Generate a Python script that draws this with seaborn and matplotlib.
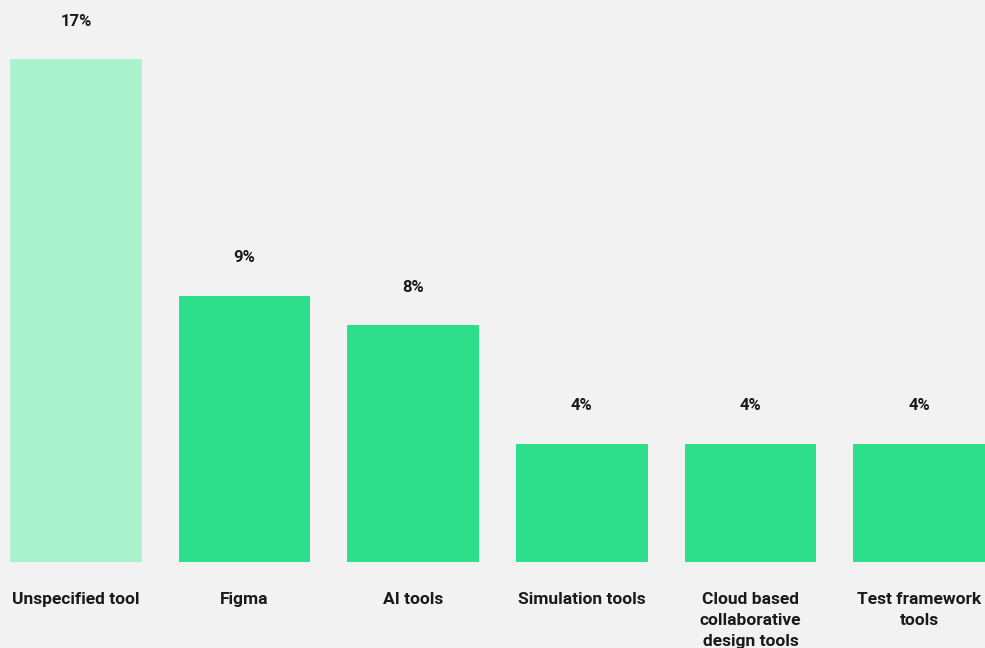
import matplotlib
matplotlib.use("Agg")
import matplotlib.pyplot as plt
import seaborn as sns
import pandas as pd

categories = ["Unspecified tool", "Figma", "AI tools", "Simulation tools",
              "Cloud based\ncollaborative\ndesign tools", "Test framework\ntools"]
shares = [17, 9, 8, 4, 4, 4]
bar_colors = ["#abf3cf", "#2ddf8a", "#2ddf8a", "#2ddf8a", "#2ddf8a", "#2ddf8a"]

bg = "#f2f2f2"
txt = "#1a1a1a"

sns.set_theme(style="white")
plt.rcParams["font.family"] = ["Roboto", "DejaVu Sans"]

df = pd.DataFrame({"tool": categories, "share": shares})

fig = plt.figure(figsize=(9.85, 6.48), dpi=100, facecolor=bg)
ax = fig.add_axes([0, 86 / 648, 1, 562 / 648])
ax.set_facecolor(bg)

sns.barplot(ax=ax, data=df, x="tool", y="share", hue="tool",
            palette=bar_colors, width=0.78, saturation=1, legend=False,
            linewidth=0, edgecolor="none")

for cont in ax.containers:
    ax.bar_label(cont, labels=[f"{v:g}%" for v in cont.datavalues],
                 padding=22, fontsize=12, fontweight="bold", color=txt)

ax.set_xlim(-0.45, 5.39)
ax.set_ylim(0, 19.0)
ax.set_xlabel("")
ax.set_ylabel("")
ax.set_yticks([])
ax.tick_params(axis="x", length=0, pad=21.5, labelsize=12.5, labelcolor=txt)
for lbl in ax.get_xticklabels():
    lbl.set_fontweight("bold")
    lbl.set_linespacing(1.5)
sns.despine(ax=ax, left=True, bottom=True)

fig.savefig("out.png", dpi=100, facecolor=bg)
